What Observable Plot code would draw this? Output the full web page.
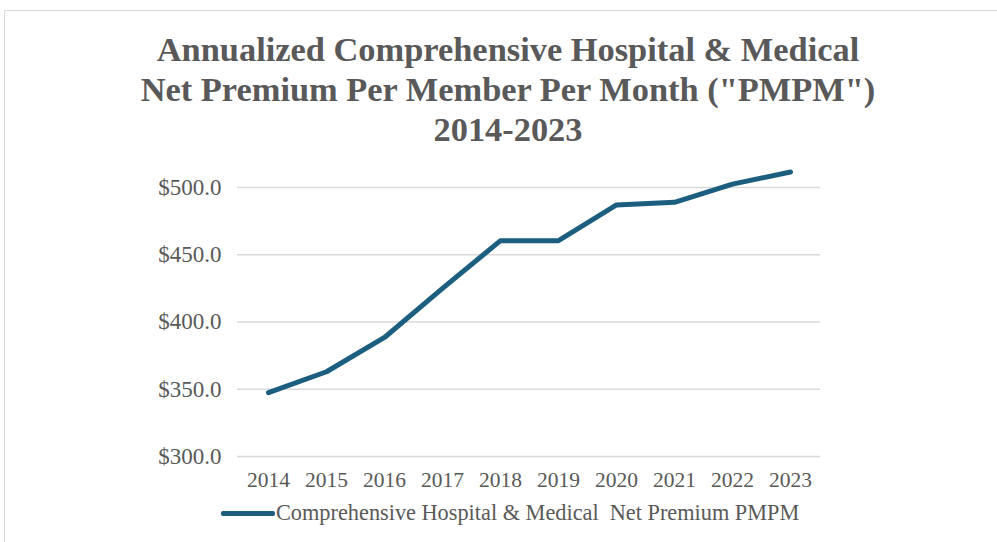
<!DOCTYPE html>
<html>
<head>
<meta charset="utf-8">
<script src="https://cdn.jsdelivr.net/npm/d3@7"></script>
<script src="https://cdn.jsdelivr.net/npm/@observablehq/plot@0.6"></script>
<style>
  html, body { margin: 0; padding: 0; background: #fff; width: 997px; height: 542px; overflow: hidden; }
  #frame { position: absolute; left: 4px; top: 10px; width: 1010px; height: 560px; border: 1px solid #d9d9d9; box-sizing: border-box; }
  #title { position: absolute; left: 4px; top: 29px; width: 1008px; text-align: center;
    font-family: "Liberation Serif", "Times New Roman", serif; font-weight: bold; font-size: 34.4px; line-height: 40px; color: #595959; }
  #chart { position: absolute; left: 0; top: 150px; }
  #legend { position: absolute; left: 221px; top: 500px; display: flex; align-items: center;
    font-family: "Liberation Serif", "Times New Roman", serif; font-size: 22.3px; color: #595959; white-space: pre; }
  #legend .sw { width: 54px; height: 5px; background: #1b5e80; border-radius: 2px; margin-right: 1px; }
</style>
</head>
<body>
<div id="frame"></div>
<div id="title">Annualized Comprehensive Hospital &amp; Medical<br>Net Premium Per Member Per Month ("PMPM")<br>2014-2023</div>
<div id="chart"></div>
<div id="legend"><div class="sw"></div><span>Comprehensive Hospital &amp; Medical  Net Premium PMPM</span></div>
<script>
const years = ["2014","2015","2016","2017","2018","2019","2020","2021","2022","2023"];
const pmpm = [347.5, 363, 388.5, 425, 460.5, 460.5, 487, 489, 502.5, 511.5];
const yTicks = [300, 350, 400, 450, 500];
const seriesName = "Comprehensive Hospital & Medical  Net Premium PMPM";

const data = years.map((y, i) => ({year: y, value: pmpm[i]}));

const plot = Plot.plot({
  width: 997,
  height: 340,
  marginLeft: 237,
  marginRight: 177,
  marginTop: 37,
  marginBottom: 34,
  style: {fontFamily: '"Liberation Serif", "Times New Roman", serif', color: "#595959", background: "transparent", overflow: "visible"},
  x: {type: "point", domain: years, padding: 0.5, label: null},
  y: {domain: [300, 500], label: null},
  marks: [
    Plot.gridY(yTicks, {stroke: "#d9d9d9", strokeOpacity: 1, strokeWidth: 1.3}),
    Plot.axisY(yTicks, {tickSize: 0, tickPadding: 16, tickFormat: d => "$" + d.toFixed(1), fontSize: 23, label: null}),
    Plot.axisX(years, {tickSize: 0, tickPadding: 15, fontSize: 21.5, label: null}),
    Plot.line(data, {x: "year", y: "value", stroke: "#1b5e80", strokeWidth: 5, strokeLinejoin: "round", strokeLinecap: "round", clip: false})
  ]
});
document.getElementById("chart").appendChild(plot);
</script>
</body>
</html>
